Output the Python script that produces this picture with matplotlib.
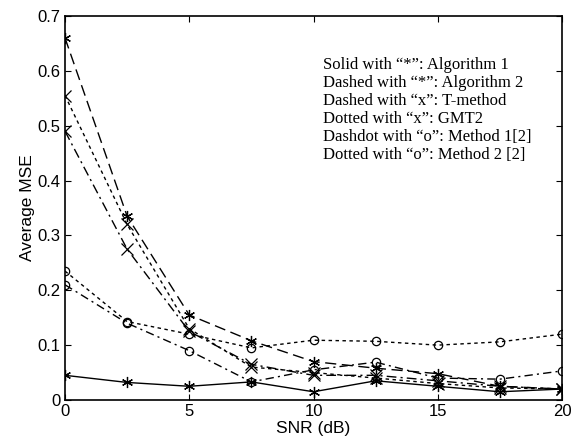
import matplotlib
matplotlib.use("Agg")
import matplotlib.pyplot as plt

snr = [0, 2.5, 5, 7.5, 10, 12.5, 15, 17.5, 20]
alg1 = [0.045, 0.032, 0.025, 0.033, 0.015, 0.035, 0.025, 0.015, 0.02]
alg2 = [0.66, 0.335, 0.155, 0.108, 0.07, 0.058, 0.048, 0.025, 0.02]
tmethod = [0.49, 0.275, 0.125, 0.065, 0.045, 0.045, 0.035, 0.025, 0.02]
gmt2 = [0.555, 0.32, 0.13, 0.06, 0.05, 0.04, 0.03, 0.022, 0.02]
method1 = [0.21, 0.14, 0.09, 0.033, 0.055, 0.069, 0.04, 0.038, 0.053]
method2 = [0.235, 0.143, 0.12, 0.095, 0.109, 0.107, 0.1, 0.106, 0.12]

notes = ['Solid with \u201c*\u201d: Algorithm 1',
         'Dashed with \u201c*\u201d: Algorithm 2',
         'Dashed with \u201cx\u201d: T-method',
         'Dotted with \u201cx\u201d: GMT2',
         'Dashdot with \u201co\u201d: Method 1[2]',
         'Dotted with \u201co\u201d: Method 2 [2]']

fig = plt.figure(figsize=(5.72, 4.47), dpi=100)
ax = fig.add_axes([65/572, 47/447, (562-65)/572, (400-16)/447])
k = dict(color='black', lw=1.0, mfc='none', ms=8, mew=0.9)
ax.plot(snr, alg1, '-', marker=(6, 2, 0), **k)
ax.plot(snr, alg2, marker=(6, 2, 0), dashes=(8, 4), **k)
ax.plot(snr, tmethod, marker='x', dashes=(7, 3, 1.5, 3), **k)
ax.plot(snr, gmt2, marker='x', dashes=(2.5, 2.5), **k)
ax.plot(snr, method1, marker='o', dashes=(6, 3, 1.5, 3), **{**k, 'ms': 6})
ax.plot(snr, method2, marker='o', dashes=(2.5, 2.5), **{**k, 'ms': 6})

ax.set_xlim(0, 20)
ax.set_ylim(0, 0.7)
ax.set_xticks([0, 5, 10, 15, 20])
ax.set_yticks([0, 0.1, 0.2, 0.3, 0.4, 0.5, 0.6, 0.7])
ax.set_yticklabels(['0', '0.1', '0.2', '0.3', '0.4', '0.5', '0.6', '0.7'])
ax.tick_params(direction='in', labelsize=12, length=4, top=True, right=True,
               labelfontfamily='Liberation Sans', pad=3)
for s in ax.spines.values():
    s.set_linewidth(1.2)
ax.set_xlabel('SNR (dB)', fontsize=12.5, family='Liberation Sans', labelpad=1)
ax.set_ylabel('Average MSE', fontsize=12.5, family='Liberation Sans', labelpad=2)

for i, t in enumerate(notes):
    fig.text(323/572, 1 - (65 + 18*i)/447, t, fontsize=12,
             family='Liberation Serif', va='center', ha='left')

fig.savefig('out.png', dpi=100)
